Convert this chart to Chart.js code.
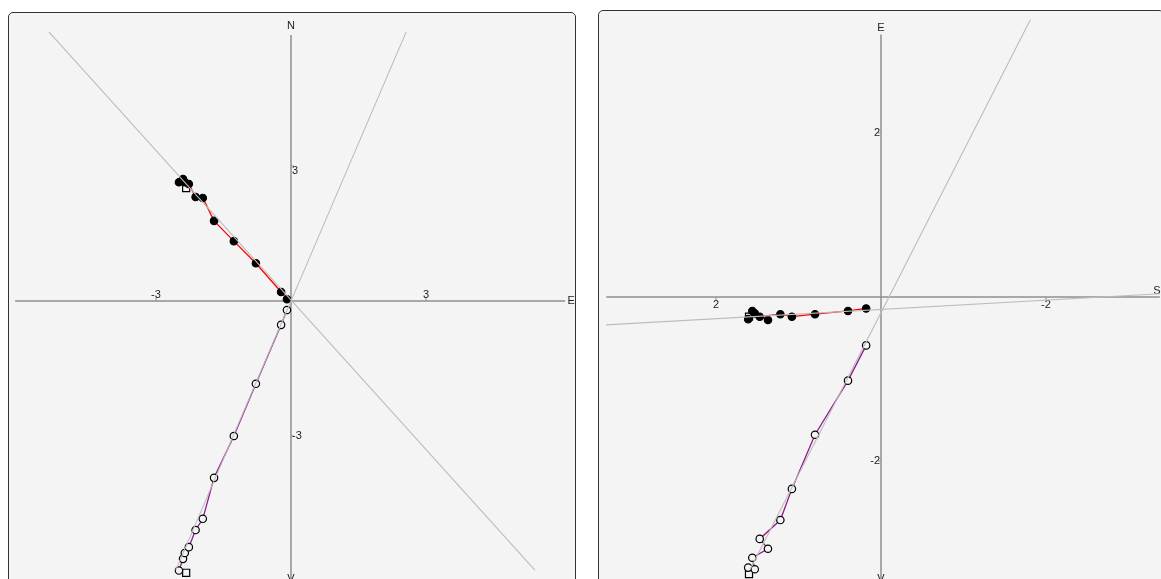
<!DOCTYPE html>
<html>
<head>
<meta charset="utf-8">
<script src="https://cdn.jsdelivr.net/npm/chart.js@4"></script>
<style>
body { margin: 0; background: #fff; width: 1161px; height: 579px; overflow: hidden; }
.panel { position: absolute; border: 1px solid #333; border-radius: 5px; background: #f4f4f4; overflow: hidden; }
#p1 { left: 8px; top: 12px; width: 566px; height: 578px; }
#p2 { left: 598px; top: 10px; width: 564px; height: 578px; }
canvas { display: block; }
</style>
</head>
<body>
<div class="panel" id="p1"><canvas id="c1" width="566" height="578"></canvas></div>
<div class="panel" id="p2"><canvas id="c2" width="564" height="578"></canvas></div>
<script>
// specimen A : horizontal projection (E, N) and vertical projection (E, V), first step = NRM
var leftE = [-2.33, -2.49, -2.40, -2.36, -2.27, -2.12, -1.96, -1.71, -1.27, -0.78, -0.22, -0.09]
var leftN = [2.51, 2.64, 2.71, 2.64, 2.60, 2.31, 2.29, 1.78, 1.33, 0.84, 0.20, 0.04]
var leftV = [-6.04, -5.99, -5.73, -5.60, -5.47, -5.09, -4.84, -3.93, -3.00, -1.84, -0.53, -0.20]
var leftFitH = { x: [-5.38, 5.42], y: [5.98, -5.98] }
var leftFitV = { x: [2.56, -2.56], y: [5.98, -5.98] }
var leftTicks = [-3, 3]

// specimen B : horizontal projection (N, E) and vertical projection (N, V)
var rightN = [1.60, 1.61, 1.53, 1.56, 1.37, 1.47, 1.22, 1.08, 0.80, 0.40, 0.18]
var rightE = [-0.24, -0.27, -0.20, -0.17, -0.28, -0.24, -0.21, -0.24, -0.21, -0.17, -0.14]
var rightV = [-3.38, -3.30, -3.32, -3.18, -3.07, -2.95, -2.72, -2.34, -1.68, -1.02, -0.59]
var rightFitH = { x: [3.33, -3.38], y: [-0.34, 0.04] }
var rightFitV = { x: [-1.81, 1.59], y: [3.38, -3.33] }
var rightTicks = [-2, 2]

const FONT = '11px "Liberation Sans", Arial, sans-serif'

function pts(xs, ys) {
    return xs.map((v, i) => ({ x: v, y: ys[i] }))
}

function refLine(fit) {
    return {
        data: pts(fit.x, fit.y),
        showLine: true,
        borderColor: '#bcbcbc',
        borderWidth: 1.1,
        pointRadius: 0
    }
}

function proj(xs, ys, color, filled) {
    return {
        data: pts(xs, ys),
        showLine: true,
        borderColor: color,
        borderWidth: 1.3,
        pointStyle: (c) => c.dataIndex === 0 ? 'rect' : 'circle',
        pointRadius: (c) => c.dataIndex === 0 ? 5 : 3.7,
        pointBorderColor: '#000',
        pointBorderWidth: 1.2,
        pointBackgroundColor: (c) => (filled && c.dataIndex > 0) ? '#000' : '#f4f4f4'
    }
}

// draws the two crossing axes, their ticks and the direction letters
function axesPlugin(a) {
    return {
        id: 'zAxes',
        beforeDatasetsDraw(chart) {
            const ctx = chart.ctx
            const sx = chart.scales.x, sy = chart.scales.y
            const ox = sx.getPixelForValue(0), oy = sy.getPixelForValue(0)
            const h0 = sx.getPixelForValue(a.h[0]), h1 = sx.getPixelForValue(a.h[1])
            const vTop = sy.getPixelForValue(a.v[0]), vBot = sy.getPixelForValue(a.v[1])
            ctx.save()
            ctx.strokeStyle = '#8f8f8f'
            ctx.lineWidth = 1.5
            ctx.beginPath()
            ctx.moveTo(h0, oy); ctx.lineTo(h1, oy)
            ctx.moveTo(ox, vTop); ctx.lineTo(ox, vBot)
            ctx.stroke()

            ctx.font = FONT
            ctx.fillStyle = '#222'
            ctx.lineWidth = 1
            a.ticks.forEach(t => {
                const px = sx.getPixelForValue(t), py = sy.getPixelForValue(t)
                ctx.beginPath()
                ctx.moveTo(px, oy); ctx.lineTo(px, oy + (a.hBelow ? 3 : -3))
                ctx.moveTo(ox, py); ctx.lineTo(ox + (a.vRight ? 3 : -3), py)
                ctx.stroke()
                ctx.textAlign = 'center'
                ctx.textBaseline = a.hBelow ? 'top' : 'bottom'
                ctx.fillText(String(t), px, a.hBelow ? oy + 2 : oy - 1)
                ctx.textAlign = a.vRight ? 'left' : 'right'
                ctx.textBaseline = 'middle'
                ctx.fillText(String(t), a.vRight ? ox + 1 : ox - 1, py + (a.vRight && t > 0 ? 5 : 0))
            })

            ctx.textAlign = 'center'
            ctx.textBaseline = 'middle'
            ctx.fillText(a.top, ox, vTop - a.topGap)
            ctx.textBaseline = 'top'
            ctx.fillText(a.bottom, ox, a.bottomY)
            ctx.textBaseline = 'middle'
            ctx.fillText(a.right, h1 + a.rightDx, oy + a.rightDy)
            ctx.restore()
        }
    }
}

function panel(id, o) {
    const canvas = document.getElementById(id)
    const W = canvas.width, H = canvas.height
    const xr = o.reverse
        ? { min: -(W - o.ox) / o.kx, max: o.ox / o.kx }
        : { min: -o.ox / o.kx, max: (W - o.ox) / o.kx }
    return new Chart(canvas.getContext('2d'), {
        type: 'scatter',
        data: { datasets: o.datasets },
        options: {
            responsive: false,
            animation: false,
            events: [],
            layout: { padding: 0, autoPadding: false },
            plugins: { legend: { display: false }, tooltip: { enabled: false } },
            scales: {
                x: { type: 'linear', display: false, reverse: !!o.reverse, min: xr.min, max: xr.max },
                y: { type: 'linear', display: false, min: -(H - o.oy) / o.ky, max: o.oy / o.ky }
            }
        },
        plugins: [axesPlugin(o.axes)]
    })
}

panel('c1', {
    ox: 282, oy: 288, kx: 45, ky: 45,
    datasets: [
        refLine(leftFitH),
        refLine(leftFitV),
        proj(leftE, leftV, '#901890', false),
        proj(leftE, leftN, '#ff0000', true)
    ],
    axes: {
        h: [-6.13, 6.09], v: [5.91, -7], ticks: leftTicks,
        hBelow: false, vRight: true,
        top: 'N', topGap: 9, bottom: 'V', bottomY: 560,
        right: 'E', rightDx: 6, rightDy: 0
    }
})

panel('c2', {
    ox: 282, oy: 286, kx: 82.5, ky: 82, reverse: true,
    datasets: [
        refLine(rightFitH),
        refLine(rightFitV),
        proj(rightN, rightV, '#901890', false),
        proj(rightN, rightE, '#ff0000', true)
    ],
    axes: {
        h: [3.33, -3.38], v: [3.2, -4], ticks: rightTicks,
        hBelow: true, vRight: false,
        top: 'E', topGap: 7, bottom: 'V', bottomY: 562,
        right: 'S', rightDx: -3, rightDy: -6
    }
})
</script>
</body>
</html>
